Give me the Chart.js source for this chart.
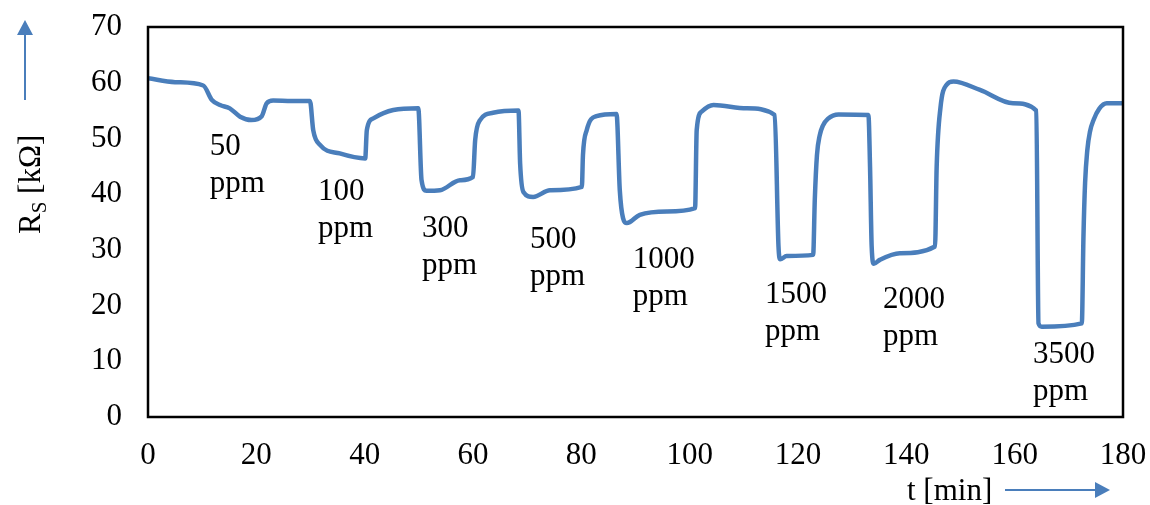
<!DOCTYPE html>
<html>
<head>
<meta charset="utf-8">
<script src="https://cdn.jsdelivr.net/npm/chart.js@4"></script>
<style>
  body { margin: 0; background: #fff; }
  #wrap { width: 1150px; height: 505px; }
</style>
</head>
<body>
<div id="wrap"><canvas id="graph" width="1150" height="505"></canvas></div>
<script>
const times = [0, 5, 10.2, 11.8, 13.3, 15.1, 17.0, 19.1, 21.0, 21.9,
    23.1, 26.5, 29.9, 30.5, 31.8, 35.4, 40.1, 40.4, 41.6, 45.3,
    49.9, 50.5, 51.4, 53.9, 57.6, 60.0, 60.4, 61.3, 63.7, 68.4,
    68.7, 69.3, 71.1, 74.2, 80.1, 80.3, 81.0, 82.8, 86.5, 87.1,
    87.7, 88.4, 90.8, 95.8, 101.0, 101.3, 102.2, 104.4, 110.5, 115.7,
    116.4, 116.7, 117.9, 122.8, 123.1, 123.5, 124.0, 124.6, 125.5, 127.5,
    133.0, 133.3, 133.6, 134.0, 135.1, 138.8, 145.3, 145.6, 146.3, 147.4,
    148.7, 153.6, 159.7, 164.0, 164.4, 165.0, 172.4, 172.7, 173.0, 173.4,
    173.9, 174.6, 175.6, 177.0, 180];
const resistance = [60.8, 60.1, 59.5, 56.9, 56.0, 55.4, 53.9, 53.3, 54.0, 56.3,
    56.8, 56.7, 56.7, 51.5, 48.8, 47.3, 46.4, 51.5, 53.6, 55.1,
    55.4, 42.5, 40.6, 40.7, 42.5, 43.1, 49.7, 53.3, 54.6, 55.0,
    45.5, 40.4, 39.5, 40.7, 41.3, 47.0, 51.5, 54.0, 54.4, 40.7,
    35.7, 34.8, 36.3, 36.9, 37.5, 51.5, 54.8, 56.0, 55.4, 54.2,
    30.6, 28.3, 28.9, 29.1, 39.0, 47.0, 50.5, 52.3, 53.5, 54.3,
    54.2, 44.9, 30.6, 27.5, 28.2, 29.4, 30.6, 44.9, 55.5, 59.6,
    60.2, 58.7, 56.3, 55.0, 16.8, 16.2, 16.8, 32.4, 42.0, 47.8,
    51.2, 53.4, 55.3, 56.3, 56.3];

// 濃度ラベル
const labelTexts = ['50', '100', '300', '500', '1000', '1500', '2000', '3500'];
const labelTimes = [11.4, 31.4, 50.6, 70.5, 89.5, 113.9, 135.7, 163.4];
const labelLevels = [47.0, 39.0, 32.3, 30.3, 26.8, 20.5, 19.6, 9.7];

const xTicks = [0, 20, 40, 60, 80, 100, 120, 140, 160, 180];

const FONT = "'Liberation Serif', 'Times New Roman', serif";
const BLUE = 'rgb(74, 126, 187)';

function arrow(ctx, x1, y1, x2, y2) {
    const ang = Math.atan2(y2 - y1, x2 - x1);
    const len = 15, half = 8;
    const c = Math.cos(ang), s = Math.sin(ang);
    ctx.save();
    ctx.strokeStyle = BLUE;
    ctx.fillStyle = BLUE;
    ctx.lineWidth = 2;
    ctx.beginPath();
    ctx.moveTo(x1, y1);
    ctx.lineTo(x2 - len * c, y2 - len * s);
    ctx.stroke();
    ctx.beginPath();
    ctx.moveTo(x2, y2);
    ctx.lineTo(x2 - len * c - half * s, y2 - len * s + half * c);
    ctx.lineTo(x2 - len * c + half * s, y2 - len * s - half * c);
    ctx.closePath();
    ctx.fill();
    ctx.restore();
}

function noPad(s) {
    s.paddingTop = 0;
    s.paddingBottom = 0;
    s.paddingLeft = 0;
    s.paddingRight = 0;
}

const decor = {
    id: 'decor',
    afterDatasetsDraw(chart) {
        const ctx = chart.ctx;
        const a = chart.chartArea;
        const sx = chart.scales.x, sy = chart.scales.y;
        ctx.save();
        // 枠
        ctx.strokeStyle = '#000';
        ctx.lineWidth = 2.5;
        ctx.strokeRect(a.left, a.top, a.right - a.left, a.bottom - a.top);

        // ppm ラベル
        ctx.fillStyle = '#000';
        ctx.font = '31px ' + FONT;
        ctx.textAlign = 'left';
        ctx.textBaseline = 'alphabetic';
        labelTexts.forEach((txt, i) => {
            const px = sx.getPixelForValue(labelTimes[i]);
            const py = sy.getPixelForValue(labelLevels[i]);
            ctx.fillText(txt, px, py);
            ctx.fillText('ppm', px, py + 37);
        });

        // y軸タイトル R_S [kΩ]
        ctx.save();
        ctx.translate(40, 234);
        ctx.rotate(-Math.PI / 2);
        ctx.font = '31px ' + FONT;
        ctx.fillText('R', 0, 0);
        let w = ctx.measureText('R').width;
        ctx.font = '21px ' + FONT;
        ctx.fillText('S', w, 6);
        w += ctx.measureText('S').width;
        ctx.font = '31px ' + FONT;
        ctx.fillText(' [kΩ]', w, 0);
        ctx.restore();
        arrow(ctx, 25, 100, 25, 20);

        // x軸タイトル
        ctx.fillStyle = '#000';
        ctx.font = '31px ' + FONT;
        ctx.textBaseline = 'middle';
        ctx.fillText('t [min]', 907, 492);
        arrow(ctx, 1005, 490, 1110, 490);
        ctx.restore();
    }
};

const graph = document.getElementById('graph');
const chart = new Chart(graph, {
    type: 'scatter',
    data: {
        datasets: [{
            data: times.map((t, i) => ({ x: t, y: resistance[i] })),
            showLine: true,
            borderColor: BLUE,
            borderWidth: 4.5,
            pointRadius: 0,
            cubicInterpolationMode: 'monotone',
            fill: false,
        }]
    },
    options: {
        responsive: false,
        animation: false,
        layout: { padding: { top: 27, right: 27, left: 0, bottom: 0 } },
        plugins: {
            legend: { display: false },
            tooltip: { enabled: false },
        },
        scales: {
            x: {
                type: 'linear',
                min: 0,
                max: 180,
                grid: { display: false, drawTicks: false },
                border: { display: false },
                afterBuildTicks: (s) => { s.ticks = xTicks.map(v => ({ value: v })); },
                afterFit: (s) => { s.height = 88; noPad(s); },
                ticks: {
                    color: '#000',
                    padding: 20,
                    font: { family: FONT, size: 31 },
                    maxRotation: 0,
                    autoSkip: false,
                },
            },
            y: {
                min: 0,
                max: 70,
                grid: { display: false, drawTicks: false },
                border: { display: false },
                afterFit: (s) => { s.width = 148; noPad(s); },
                ticks: {
                    color: '#000',
                    stepSize: 10,
                    padding: 26,
                    font: { family: FONT, size: 31 },
                },
            },
        },
    },
    plugins: [decor],
});
</script>
</body>
</html>
